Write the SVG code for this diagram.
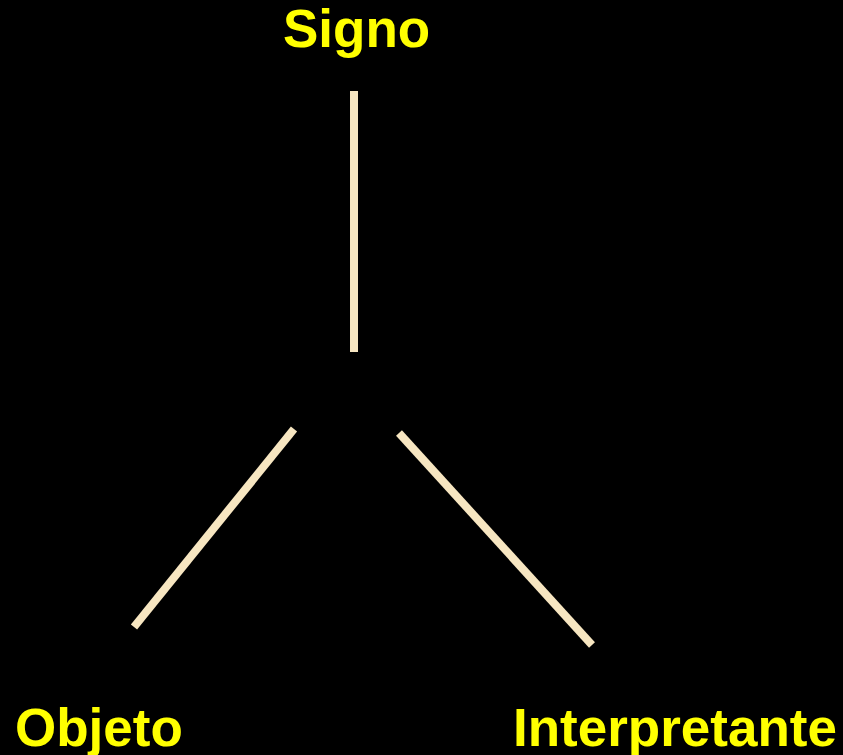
<svg xmlns="http://www.w3.org/2000/svg" width="843" height="755" viewBox="0 0 843 755">
<style>
.lbl{font-family:"Liberation Sans",Arial,sans-serif;font-weight:bold;font-size:53px;fill:#FFFF00}
.edge{stroke:#F7E6C1;stroke-width:8;fill:none;stroke-linecap:butt}
</style>
<rect width="843" height="755" fill="#000000"/>
<g id="connectors">
<line class="edge" x1="354" y1="91" x2="354" y2="352"/>
<line class="edge" x1="294" y1="429" x2="134" y2="627"/>
<line class="edge" x1="399" y1="433" x2="592" y2="645"/>
</g>
<g id="signo"><text class="lbl" x="283" y="47">Signo</text></g>
<g id="objeto"><text class="lbl" x="15" y="746">Objeto</text></g>
<g id="interpretante"><text class="lbl" x="513" y="746">Interpretante</text></g>
</svg>
